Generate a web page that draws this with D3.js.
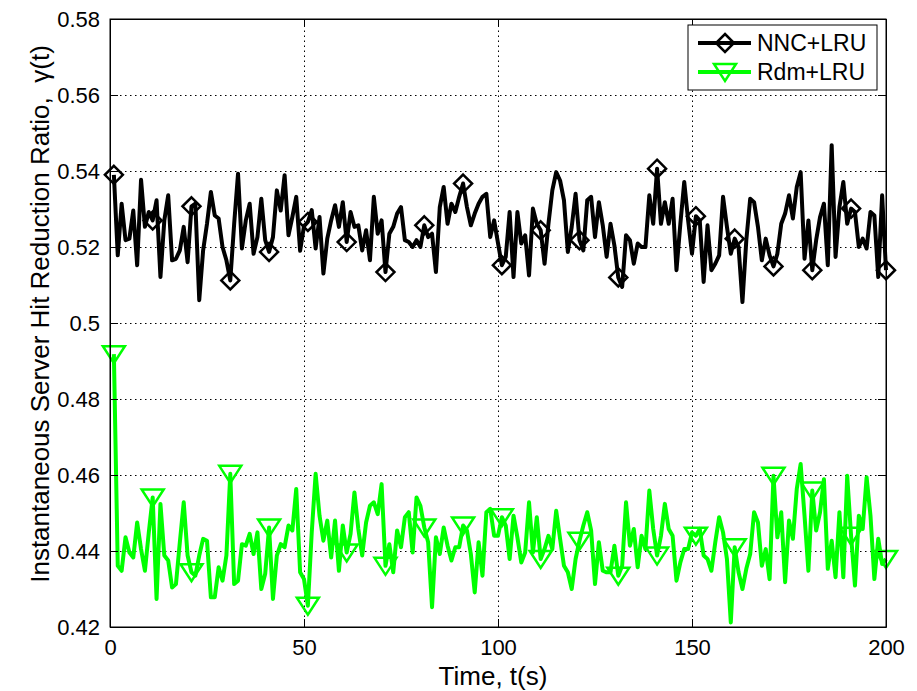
<!DOCTYPE html>
<html lang="en">
<head>
<meta charset="UTF-8">
<title>Server Hit Reduction Ratio</title>
<script src="https://d3js.org/d3.v7.min.js"></script>
<style>
    body { margin: 0; background: #fff; }
    svg text { font-family: "Liberation Sans", Arial, Helvetica, sans-serif; fill: #000; }
    .grid line { stroke: #000; stroke-width: 1; stroke-dasharray: 1.5,3.5; }
    .grid path { display: none; }
    .axis path, .axis line { stroke: #000; stroke-width: 1; }
</style>
</head>
<body>
<div id="chart"></div>
<script>
// NNC+LRU, t = 1..200
const nncLru = [
    0.539, 0.5178, 0.5314, 0.5218, 0.5222, 0.5296, 0.5152, 0.5377, 0.5253, 0.5292,
    0.527, 0.5323, 0.5121, 0.527, 0.5336, 0.5165, 0.5169, 0.5191, 0.5253, 0.516,
    0.5307, 0.5314, 0.506, 0.5191, 0.5261, 0.5345, 0.5283, 0.5275, 0.52, 0.5165,
    0.5112, 0.5261, 0.5393, 0.5196, 0.527, 0.5314, 0.5182, 0.5226, 0.5327, 0.5218,
    0.5187, 0.5226, 0.5349, 0.5296, 0.5389, 0.5231, 0.5279, 0.5332, 0.519, 0.5255,
    0.5266, 0.5297, 0.5196, 0.5279, 0.513, 0.5222, 0.527, 0.531, 0.5253, 0.5318,
    0.5213, 0.5292, 0.5253, 0.5257, 0.5191, 0.5244, 0.5165, 0.5332, 0.5235, 0.527,
    0.5134, 0.5235, 0.5253, 0.5288, 0.5305, 0.5218, 0.5213, 0.52, 0.5218, 0.52,
    0.5257, 0.5226, 0.5235, 0.5134, 0.5305, 0.5358, 0.5261, 0.5314, 0.5292, 0.5332,
    0.5367, 0.5305, 0.5257, 0.5288, 0.5314, 0.5332, 0.534, 0.5226, 0.527, 0.521,
    0.5152, 0.5174, 0.5292, 0.5121, 0.5292, 0.5209, 0.5231, 0.5125, 0.5301, 0.5261,
    0.5244, 0.5156, 0.5261, 0.5349, 0.5397, 0.5375, 0.5323, 0.5187, 0.5253, 0.534,
    0.5218, 0.5191, 0.5323, 0.5332, 0.5226, 0.5318, 0.5257, 0.5174, 0.5261, 0.5204,
    0.512, 0.5095, 0.5231, 0.5218, 0.5156, 0.5209, 0.52, 0.52, 0.5336, 0.5261,
    0.5406, 0.5261, 0.5318, 0.5261, 0.5327, 0.5139, 0.5261, 0.5371, 0.527, 0.5182,
    0.5281, 0.527, 0.5108, 0.5257, 0.5139, 0.5156, 0.5178, 0.5332, 0.5253, 0.5182,
    0.5222, 0.52, 0.5055, 0.5218, 0.5327, 0.5318, 0.5253, 0.5165, 0.5222, 0.5178,
    0.5149, 0.5182, 0.5261, 0.5288, 0.5336, 0.5275, 0.5358, 0.5397, 0.5169, 0.527,
    0.5139, 0.5218, 0.5279, 0.5314, 0.5152, 0.5468, 0.5174, 0.5305, 0.5371, 0.5261,
    0.5301, 0.5292, 0.52, 0.5222, 0.5196, 0.5292, 0.5283, 0.5121, 0.5336, 0.5139
];

// Rdm+LRU, t = 1..200
const rdmLru = [
    0.4918, 0.4361, 0.4348, 0.4436, 0.4396, 0.4383, 0.4475, 0.4405, 0.4348, 0.4449,
    0.4541, 0.4274, 0.4524, 0.4388, 0.4375, 0.4304, 0.4313, 0.4423, 0.4528, 0.4388,
    0.4344, 0.4335, 0.4388, 0.4432, 0.4427, 0.4278, 0.4278, 0.4357, 0.4322, 0.4388,
    0.4603, 0.4313, 0.4322, 0.4418, 0.4414, 0.4445, 0.4392, 0.4449, 0.43, 0.434,
    0.4462, 0.4274, 0.4388, 0.4418, 0.441, 0.4467, 0.4454, 0.4563, 0.4344, 0.4326,
    0.4256, 0.445, 0.4603, 0.4493, 0.4427, 0.448, 0.4383, 0.448, 0.4348, 0.4467,
    0.4396, 0.4445, 0.4554, 0.4458, 0.4388, 0.4475, 0.4519, 0.4528, 0.4497, 0.4576,
    0.4361, 0.4418, 0.4344, 0.4454, 0.441, 0.4489, 0.4502, 0.4396, 0.4541, 0.4519,
    0.4462, 0.4423, 0.4252, 0.4436, 0.4392, 0.4462, 0.4414, 0.4375, 0.441, 0.441,
    0.4467, 0.4454, 0.4392, 0.4291, 0.4423, 0.4335, 0.4502, 0.4511, 0.444, 0.444,
    0.4489, 0.4467, 0.4379, 0.4493, 0.4436, 0.437, 0.4396, 0.4528, 0.4396, 0.4489,
    0.4379, 0.4405, 0.444, 0.4405, 0.4506, 0.4432, 0.4361, 0.4344, 0.43, 0.4379,
    0.4427, 0.4467, 0.4502, 0.4454, 0.4313, 0.4423, 0.4348, 0.4344, 0.4344, 0.4414,
    0.4335, 0.4361, 0.4528, 0.4414, 0.4458, 0.4357, 0.444, 0.4405, 0.4559, 0.4458,
    0.4388, 0.444, 0.4524, 0.4458, 0.444, 0.4322, 0.437, 0.4405, 0.4405, 0.4449,
    0.444, 0.4458, 0.4388, 0.4379, 0.4348, 0.4423, 0.4489, 0.4449, 0.4379, 0.4212,
    0.441, 0.4344, 0.43, 0.4353, 0.4392, 0.4502, 0.4475, 0.4361, 0.4405, 0.4326,
    0.4598, 0.4436, 0.4502, 0.4318, 0.448, 0.4432, 0.4563, 0.4629, 0.4493, 0.4348,
    0.4559, 0.4454, 0.4502, 0.4589, 0.4353, 0.4427, 0.4331, 0.4502, 0.4331, 0.4598,
    0.444, 0.4309, 0.4493, 0.4458, 0.4594, 0.4493, 0.4326, 0.4432, 0.4366, 0.4379
];

// time instants where markers are drawn
const markerTimes = [1, 11, 21, 31, 41, 51, 61, 71, 81, 91, 101, 111, 121, 131, 141, 151, 161, 171, 181, 191, 200];

const xTicks = [0, 50, 100, 150, 200];
const yTicks = [0.42, 0.44, 0.46, 0.48, 0.5, 0.52, 0.54, 0.56, 0.58];
const seriesNames = ["NNC+LRU", "Rdm+LRU"];

const W = 917, H = 691;
const margin = { top: 19, right: 31, bottom: 64, left: 110 };
const width = W - margin.left - margin.right;
const height = H - margin.top - margin.bottom;

const x = d3.scaleLinear().domain([0, 200]).range([0, width]);
const y = d3.scaleLinear().domain([0.42, 0.58]).range([height, 0]);

const svg = d3.select("#chart").append("svg")
    .attr("width", W)
    .attr("height", H);

const g = svg.append("g")
    .attr("transform", `translate(${margin.left},${margin.top})`);

// dotted grid
g.append("g")
    .attr("class", "grid")
    .attr("transform", `translate(0,${height})`)
    .call(d3.axisBottom(x).tickValues(xTicks).tickSize(-height).tickFormat(""));
g.append("g")
    .attr("class", "grid")
    .call(d3.axisLeft(y).tickValues(yTicks).tickSize(-width).tickFormat(""));

const series = [
    { name: seriesNames[0], values: nncLru, color: "#000000", marker: "diamond" },
    { name: seriesNames[1], values: rdmLru, color: "#00ff00", marker: "tri" }
];

const line = d3.line()
    .x((d, i) => x(i + 1))
    .y(d => y(d));

function markerPath(type) {
    if (type === "diamond") return "M0,-9L9,0L0,9L-9,0Z";
    return "M-11,-8L11,-8L0,9Z";
}

series.forEach(s => {
    g.append("path")
        .datum(s.values)
        .attr("fill", "none")
        .attr("stroke", s.color)
        .attr("stroke-width", 4)
        .attr("stroke-linejoin", "round")
        .attr("d", line);

    g.selectAll(null)
        .data(markerTimes)
        .enter().append("path")
        .attr("transform", t => `translate(${x(t)},${y(s.values[t - 1])})`)
        .attr("d", markerPath(s.marker))
        .attr("fill", "none")
        .attr("stroke", s.color)
        .attr("stroke-width", 2.5);
});

// axes with inward ticks on all four sides
const tickLen = 8;
g.append("g")
    .attr("class", "axis")
    .attr("transform", `translate(0,${height})`)
    .call(d3.axisBottom(x).tickValues(xTicks).tickSizeInner(-tickLen).tickSizeOuter(0).tickPadding(12))
    .call(a => a.selectAll("text").style("font-size", "22px"));
g.append("g")
    .attr("class", "axis")
    .call(d3.axisTop(x).tickValues(xTicks).tickSizeInner(-tickLen).tickSizeOuter(0).tickFormat(""));
g.append("g")
    .attr("class", "axis")
    .call(d3.axisLeft(y).tickValues(yTicks).tickSizeInner(-tickLen).tickSizeOuter(0).tickPadding(10)
        .tickFormat(d => d3.format("")(+d.toFixed(2))))
    .call(a => a.selectAll("text").style("font-size", "22px"));
g.append("g")
    .attr("class", "axis")
    .attr("transform", `translate(${width},0)`)
    .call(d3.axisRight(y).tickValues(yTicks).tickSizeInner(-tickLen).tickSizeOuter(0).tickFormat(""));

g.append("rect")
    .attr("width", width)
    .attr("height", height)
    .attr("fill", "none")
    .attr("stroke", "#000")
    .attr("stroke-width", 1);

// legend
const legend = svg.append("g").attr("transform", "translate(688,25)");
legend.append("rect")
    .attr("width", 189)
    .attr("height", 65)
    .attr("fill", "#fff")
    .attr("stroke", "#000")
    .attr("stroke-width", 1);

series.forEach((s, i) => {
    const ly = 18 + i * 29;
    legend.append("line")
        .attr("x1", 10).attr("x2", 63)
        .attr("y1", ly).attr("y2", ly)
        .attr("stroke", s.color)
        .attr("stroke-width", 4);
    legend.append("path")
        .attr("transform", `translate(37,${ly})`)
        .attr("d", markerPath(s.marker))
        .attr("fill", "none")
        .attr("stroke", s.color)
        .attr("stroke-width", 2.5);
    legend.append("text")
        .attr("x", 69)
        .attr("y", ly + 8)
        .style("font-size", "23px")
        .text(s.name);
});

// axis labels
svg.append("text")
    .attr("x", 493)
    .attr("y", 685)
    .attr("text-anchor", "middle")
    .style("font-size", "26px")
    .text("Time, t(s)");

svg.append("text")
    .attr("transform", "translate(49,314) rotate(-90)")
    .attr("text-anchor", "middle")
    .style("font-size", "26px")
    .style("white-space", "pre")
    .text("Instantaneous Server Hit Reduction Ratio,  γ(t)");
</script>
</body>
</html>
